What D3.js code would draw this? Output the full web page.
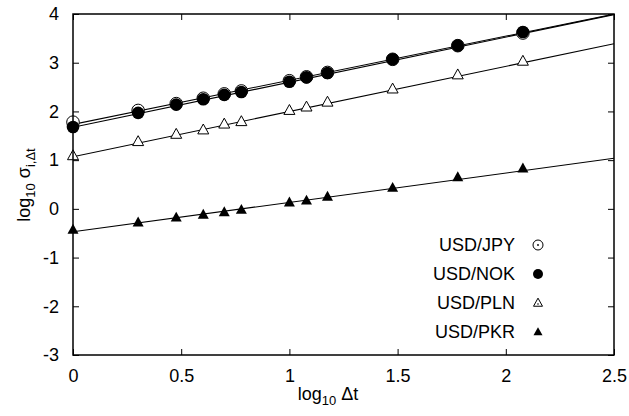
<!DOCTYPE html>
<html>
<head>
<meta charset="utf-8">
<script src="https://cdn.jsdelivr.net/npm/d3@7"></script>
<style>
body { margin: 0; background: #fff; }
text { font-family: "Liberation Sans", Arial, Helvetica, sans-serif; }
</style>
</head>
<body>
<script>
var w = 629;
var h = 416;
var margin = {left: 73, right: 15, top: 14, bottom: 61};

// log10 of the time scale (1,2,3,4,5,6,10,12,15,30,60,120)
var logDt = [0, 0.301, 0.477, 0.602, 0.699, 0.778, 1.0, 1.079, 1.176, 1.477, 1.778, 2.079];

var jpy = [1.78, 2.02, 2.16, 2.27, 2.36, 2.42, 2.63, 2.71, 2.80, 3.07, 3.35, 3.61];
var nok = [1.68, 1.97, 2.14, 2.25, 2.34, 2.40, 2.61, 2.70, 2.79, 3.07, 3.35, 3.63];
var pln = [1.09, 1.38, 1.53, 1.62, 1.74, 1.79, 2.02, 2.09, 2.19, 2.46, 2.75, 3.03];
var pkr = [-0.43, -0.28, -0.18, -0.12, -0.07, -0.02, 0.13, 0.17, 0.25, 0.43, 0.65, 0.83];

var names = ["USD/JPY", "USD/NOK", "USD/PLN", "USD/PKR"];
// fitted lines: intercept, slope
var fitA = [1.735, 1.675, 1.07, -0.47];
var fitB = [0.905, 0.925, 0.928, 0.603];

var xTicks = [0, 0.5, 1, 1.5, 2, 2.5];
var yTicks = [-3, -2, -1, 0, 1, 2, 3, 4];

var series = [jpy, nok, pln, pkr];

var xScale = d3.scaleLinear()
    .domain([0, 2.5])
    .range([margin.left, w - margin.right]);

var yScale = d3.scaleLinear()
    .domain([-3, 4])
    .range([h - margin.bottom, margin.top]);

var svg = d3.select("body")
    .append("svg")
    .attr("width", w)
    .attr("height", h);

svg.append("defs").append("clipPath")
    .attr("id", "clip")
    .append("rect")
    .attr("x", margin.left)
    .attr("y", margin.top)
    .attr("width", w - margin.left - margin.right)
    .attr("height", h - margin.top - margin.bottom);

function plain(d) { return String(d); }

// axes with inward ticks on all four sides
var bottomAxis = d3.axisBottom(xScale).tickValues(xTicks).tickSizeInner(-6).tickSizeOuter(0).tickPadding(14)
    .tickFormat(plain);
var topAxis = d3.axisTop(xScale).tickValues(xTicks).tickSizeInner(-6).tickSizeOuter(0).tickFormat("");
var leftAxis = d3.axisLeft(yScale).tickValues(yTicks).tickSizeInner(-6).tickSizeOuter(0).tickPadding(14)
    .tickFormat(plain);
var rightAxis = d3.axisRight(yScale).tickValues(yTicks).tickSizeInner(-6).tickSizeOuter(0).tickFormat("");

function styleAxis(g) {
    g.select(".domain").remove();
    g.selectAll(".tick line").attr("stroke", "#000").attr("stroke-width", 1);
    g.selectAll(".tick text")
        .attr("fill", "#000")
        .style("font-size", "18px")
        .style("font-family", "'Liberation Sans', Arial, sans-serif");
}

svg.append("g")
    .attr("transform", "translate(0," + (h - margin.bottom) + ")")
    .call(bottomAxis).call(styleAxis);
svg.append("g")
    .attr("transform", "translate(0," + margin.top + ")")
    .call(topAxis).call(styleAxis);
svg.append("g")
    .attr("transform", "translate(" + margin.left + ",0)")
    .call(leftAxis).call(styleAxis);
svg.append("g")
    .attr("transform", "translate(" + (w - margin.right) + ",0)")
    .call(rightAxis).call(styleAxis);

// fit lines
var plot = svg.append("g").attr("clip-path", "url(#clip)");

plot.selectAll(".fit")
    .data(fitA)
    .enter()
    .append("line")
    .attr("class", "fit")
    .attr("x1", xScale(0))
    .attr("x2", xScale(2.5))
    .attr("y1", function(d, i) { return yScale(fitA[i] + fitB[i] * 0); })
    .attr("y2", function(d, i) { return yScale(fitA[i] + fitB[i] * 2.5); })
    .attr("stroke", "#000")
    .attr("stroke-width", 1.1);

function triPath(cx, cy, s) {
    var hh = s * 0.9;
    return "M" + cx + "," + (cy - hh * 0.6) +
        "L" + (cx + s / 2) + "," + (cy + hh * 0.4) +
        "L" + (cx - s / 2) + "," + (cy + hh * 0.4) + "Z";
}

function drawMarker(g, kind, cx, cy, big) {
    var r = big ? 6.3 : 5;
    var s = big ? 11 : 9;
    if (kind === 0) {
        g.append("circle").attr("cx", cx).attr("cy", cy).attr("r", r)
            .attr("fill", "#fff").attr("stroke", "#000").attr("stroke-width", 1);
        g.append("circle").attr("cx", cx).attr("cy", cy).attr("r", 0.9).attr("fill", "#000");
    } else if (kind === 1) {
        g.append("circle").attr("cx", cx).attr("cy", cy).attr("r", r).attr("fill", "#000");
    } else if (kind === 2) {
        g.append("path").attr("d", triPath(cx, cy, s))
            .attr("fill", "#fff").attr("stroke", "#000").attr("stroke-width", 1);
        if (!big) {
            g.append("circle").attr("cx", cx).attr("cy", cy + 1).attr("r", 0.8).attr("fill", "#000");
        }
    } else {
        g.append("path").attr("d", triPath(cx, cy, s)).attr("fill", "#000");
    }
}

// points
series.forEach(function(vals, k) {
    var g = svg.append("g");
    vals.forEach(function(v, i) {
        drawMarker(g, k, xScale(logDt[i]), yScale(v), true);
    });
});

// frame
svg.append("rect")
    .attr("x", margin.left)
    .attr("y", margin.top)
    .attr("width", w - margin.left - margin.right)
    .attr("height", h - margin.top - margin.bottom)
    .attr("fill", "none")
    .attr("stroke", "#000")
    .attr("stroke-width", 1.5);

// legend
var legend = svg.append("g");
names.forEach(function(name, k) {
    var ly = 245 + k * 29;
    legend.append("text")
        .attr("x", 515)
        .attr("y", ly + 6)
        .attr("text-anchor", "end")
        .style("font-size", "18px")
        .text(name);
    drawMarker(legend, k, 538, ly, false);
});

// axis titles
var xt = svg.append("text")
    .attr("x", 328)
    .attr("y", 400)
    .attr("text-anchor", "middle")
    .style("font-size", "18px");
xt.append("tspan").text("log");
xt.append("tspan").attr("dy", 5).style("font-size", "13px").text("10");
xt.append("tspan").attr("dy", -5).text(" \u0394t");

var yt = svg.append("text")
    .attr("transform", "translate(30," + 185 + ") rotate(-90)")
    .attr("text-anchor", "middle")
    .style("font-size", "18px");
yt.append("tspan").text("log");
yt.append("tspan").attr("dy", 5).style("font-size", "13px").text("10");
yt.append("tspan").attr("dy", -5).text(" \u03c3");
yt.append("tspan").attr("dy", 5).style("font-size", "13px").text("i,\u0394t");
</script>
</body>
</html>
